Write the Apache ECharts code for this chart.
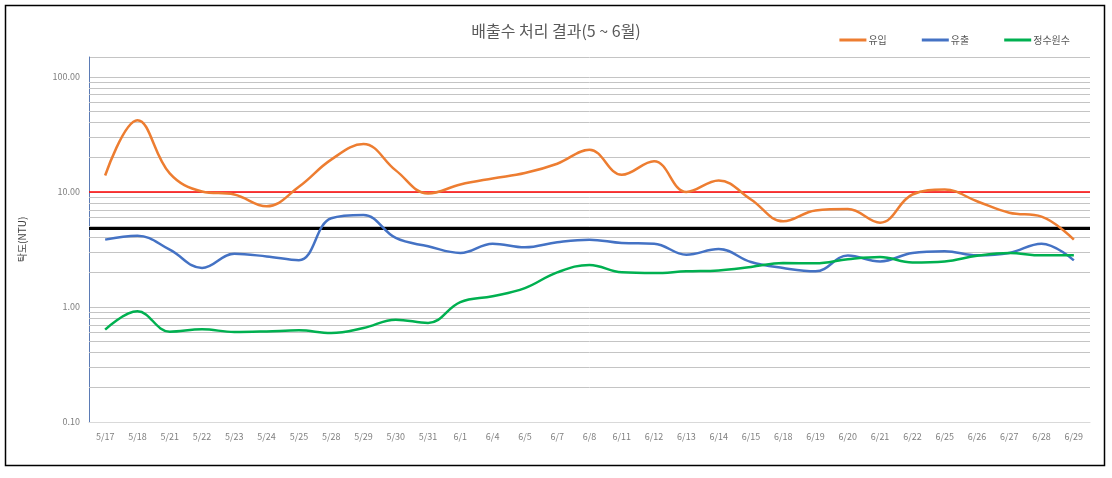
<!DOCTYPE html>
<html>
<head>
<meta charset="utf-8">
<script src="https://cdn.jsdelivr.net/npm/echarts@6/dist/echarts.min.js"></script>
<style>
  html, body { margin: 0; padding: 0; background: #fff; }
  #chart { width: 1112px; height: 478px; }
</style>
</head>
<body>
<div id="chart"></div>
<script>
// 배출수 처리 결과 (5~6월) - 탁도 로그 그래프
var dates = ["5/17", "5/18", "5/21", "5/22", "5/23", "5/24", "5/25", "5/28", "5/29", "5/30",
  "5/31", "6/1", "6/4", "6/5", "6/7", "6/8", "6/11", "6/12", "6/13", "6/14",
  "6/15", "6/18", "6/19", "6/20", "6/21", "6/22", "6/25", "6/26", "6/27", "6/28", "6/29"];

// 유입
var inflow = [13.9, 42, 14.5, 10.1, 9.5, 7.5, 11.1, 19.1, 26.1, 15.4,
  9.7, 11.6, 13.1, 14.6, 17.6, 23.3, 14.1, 18.5, 10.0, 12.6,
  8.6, 5.55, 6.9, 7.1, 5.4, 9.5, 10.5, 8.3, 6.6, 6.1, 3.85];

// 유출
var outflow = [3.85, 4.17, 3.15, 2.18, 2.9, 2.75, 2.55, 5.9, 6.3, 3.98,
  3.37, 2.95, 3.55, 3.3, 3.65, 3.85, 3.6, 3.55, 2.85, 3.19,
  2.46, 2.18, 2.04, 2.8, 2.49, 2.95, 3.05, 2.81, 2.95, 3.55, 2.54];

// 정수원수
var rawWater = [0.635, 0.916, 0.61, 0.64, 0.606, 0.613, 0.626, 0.594, 0.656, 0.776,
  0.726, 1.1, 1.24, 1.46, 2.0, 2.32, 2.0, 1.97, 2.04, 2.08,
  2.23, 2.41, 2.4, 2.6, 2.72, 2.44, 2.49, 2.79, 2.95, 2.81, 2.81];

var redLimit = 10;
var blackLimit = 4.8;

// 로그축 보조 눈금선 (2~9, 20~90 ...)
var minorLines = [];
[0.1, 1, 10].forEach(function (base) {
  for (var k = 2; k <= 9; k++) {
    minorLines.push({ yAxis: +(base * k).toFixed(2) });
  }
});

var gridColor = "#c4c4c4";
var labelColor = "#7f7f7f";
var fontName = "Noto Sans CJK KR";

var myChart = echarts.init(document.getElementById("chart"));
myChart.setOption({
  animation: false,
  textStyle: { fontFamily: fontName },
  title: {
    text: "배출수 처리 결과(5 ~ 6월)",
    left: "center",
    top: 18,
    textStyle: { color: "#595959", fontSize: 16, fontWeight: "normal", fontFamily: fontName }
  },
  legend: {
    data: ["유입", "유출", "정수원수"],
    right: 37,
    top: 30,
    icon: "rect",
    itemWidth: 27,
    itemHeight: 3,
    itemGap: 35,
    textStyle: { color: "#595959", fontSize: 10, padding: [0, 0, 0, -3] }
  },
  graphic: [{
    type: "rect",
    shape: { x: 5.5, y: 5.5, width: 1099, height: 460 },
    style: { fill: "none", stroke: "#000", lineWidth: 1.5 },
    silent: true
  }],
  grid: {
    left: 89,
    right: 22,
    top: 57,
    bottom: 56
  },
  xAxis: {
    type: "category",
    data: dates,
    boundaryGap: true,
    axisLine: { lineStyle: { color: "#d9d9d9" } },
    axisTick: { show: false },
    axisLabel: { color: labelColor, fontSize: 9, margin: 10, interval: 0 }
  },
  yAxis: {
    type: "log",
    min: 0.1,
    max: 149,
    name: "탁도(NTU)",
    nameLocation: "middle",
    nameGap: 62,
    nameTextStyle: { color: "#404040", fontSize: 10 },
    axisLine: { show: true, lineStyle: { color: "#5b7bb5" } },
    axisTick: { show: false },
    axisLabel: {
      color: labelColor,
      fontSize: 9,
      margin: 9,
      formatter: function (v) {
        var l = Math.log10(v);
        if (Math.abs(l - Math.round(l)) > 1e-6) return "";
        return v.toFixed(2);
      }
    },
    splitLine: { show: true, lineStyle: { color: gridColor, width: 1 } }
  },
  series: [
    {
      name: "grid",
      type: "line",
      data: [],
      silent: true,
      z: 1,
      markLine: {
        silent: true,
        symbol: "none",
        label: { show: false },
        lineStyle: { color: gridColor, width: 1, type: "solid" },
        data: minorLines
      }
    },
    {
      name: "limits",
      type: "line",
      data: [],
      silent: true,
      z: 2,
      markLine: {
        silent: true,
        symbol: "none",
        label: { show: false },
        data: [
          { yAxis: redLimit, lineStyle: { color: "#ff0000", width: 1.5, type: "solid" } },
          { yAxis: blackLimit, lineStyle: { color: "#000000", width: 3, type: "solid" } }
        ]
      }
    },
    {
      name: "유입",
      type: "line",
      data: inflow,
      smooth: 0.4,
      symbol: "none",
      z: 5,
      itemStyle: { color: "#ED7D31" },
      lineStyle: { width: 2.5, color: "#ED7D31" }
    },
    {
      name: "유출",
      type: "line",
      data: outflow,
      smooth: 0.4,
      symbol: "none",
      z: 5,
      itemStyle: { color: "#4472C4" },
      lineStyle: { width: 2.5, color: "#4472C4" }
    },
    {
      name: "정수원수",
      type: "line",
      data: rawWater,
      smooth: 0.4,
      symbol: "none",
      z: 5,
      itemStyle: { color: "#00B050" },
      lineStyle: { width: 2.5, color: "#00B050" }
    }
  ]
});
</script>
</body>
</html>
